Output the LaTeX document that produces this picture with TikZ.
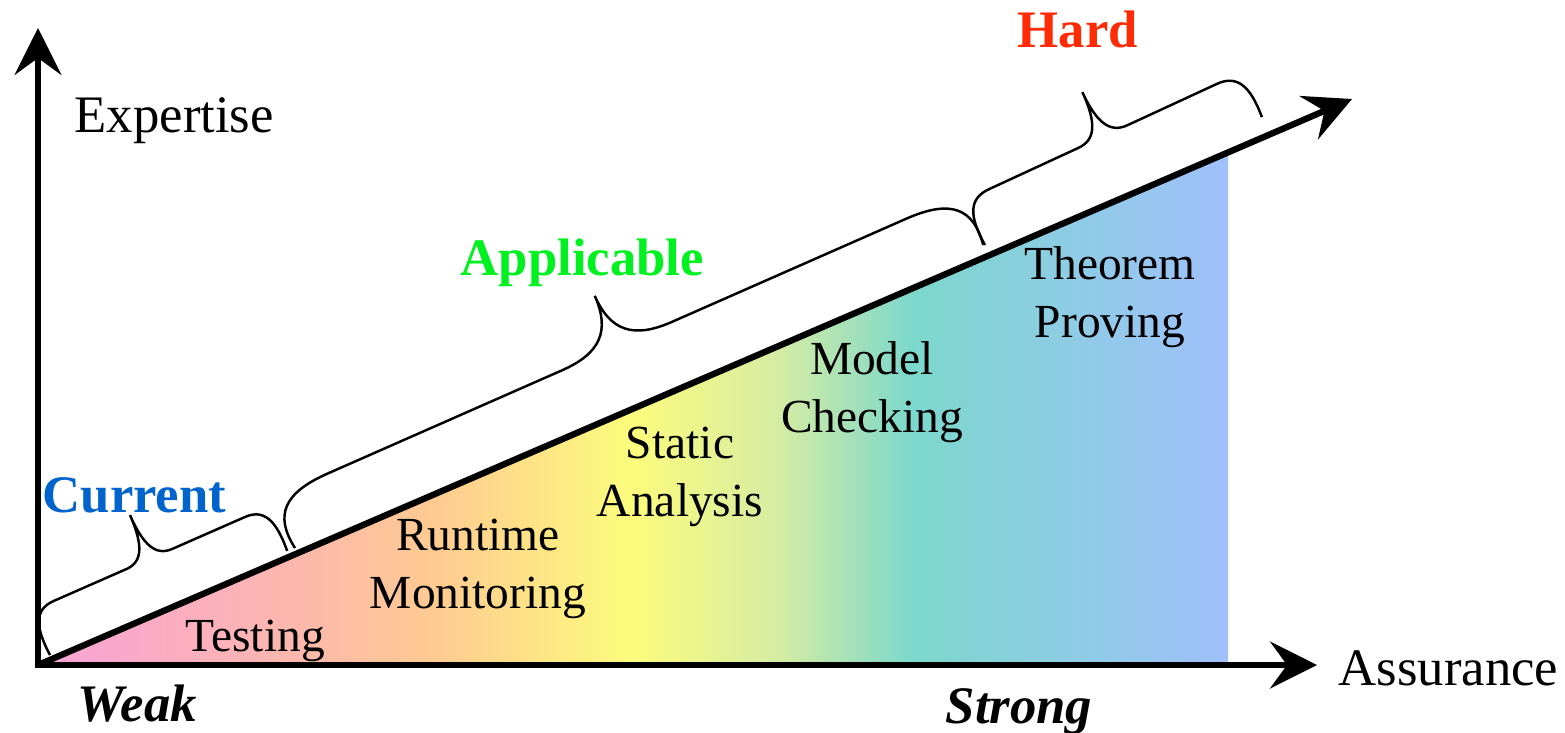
\documentclass[tikz,border=0pt]{standalone}
\usepackage{fontspec}
\setmainfont{Liberation Serif}
\usepackage{tikz}
\usepackage{xcolor}
\usetikzlibrary{arrows.meta}

\definecolor{sp0}{HTML}{F8A2D8}
\definecolor{sp1}{HTML}{FCB8AC}
\definecolor{sp2}{HTML}{FECC90}
\definecolor{sp3}{HTML}{FCFC7C}
\definecolor{sp4}{HTML}{D4ECA4}
\definecolor{sp5}{HTML}{7CD8CC}
\definecolor{sp6}{HTML}{A0C0FC}
\definecolor{currentblue}{HTML}{0064CC}
\definecolor{applicablegreen}{HTML}{00F020}
\definecolor{hardred}{HTML}{FF2B05}

\pgfdeclarehorizontalshading{spectrum}{100bp}{color(0bp)=(sp0); color(25bp)=(sp0);
	color(36bp)=(sp1); color(41.9bp)=(sp2); color(49.9bp)=(sp3); color(56.2bp)=(sp4);
	color(61.7bp)=(sp5); color(75bp)=(sp6); color(100bp)=(sp6)}

\tikzset{
	axislabel/.style={font=\fontsize{15}{18}\selectfont, inner sep=0, anchor=base west},
	verdict/.style={font=\bfseries\fontsize{15}{18}\selectfont, inner sep=0, anchor=base west},
	method/.style={font=\fontsize{13.5}{16.5}\selectfont, align=center, inner sep=0},
	axis/.style={line width=1.5pt},
	pics/curly/.style n args={3}{code={
		\draw[line width=0.7pt] (0,0) .. controls (-0.1*#3,0.7*#2) and (0.2*#3,#2) .. (#3,#2)
			-- (0.5*#1-#3,#2) .. controls (0.5*#1-0.3*#3,#2) and (0.5*#1,1.3*#2) .. (0.5*#1,2*#2)
			.. controls (0.5*#1,1.3*#2) and (0.5*#1+0.3*#3,#2) .. (0.5*#1+#3,#2)
			-- (#1-#3,#2) .. controls (#1-0.2*#3,#2) and (#1+0.1*#3,0.7*#2) .. (#1,0);
	}}
}

\begin{document}
\begin{tikzpicture}[>={Stealth[length=4.7mm, width=4.7mm, inset=1.7mm]}]
	\useasboundingbox (-0.38,-0.67) rectangle (15.27,6.65);
	%% axis points
	\coordinate (O) at (0,0);
	\coordinate (ytip) at (0,6.37);
	\coordinate (xtip) at (12.79,0);
	\coordinate (dtip) at (13.14,5.66);
	\coordinate (fbase) at (11.90,0);
	\coordinate (ftop) at (11.90,5.126);
	%% coloured wedge
	\shade[shading=spectrum] (O) -- (fbase) -- (ftop) -- cycle;
	%% axes
	\draw[axis, <->, line join=miter] (ytip) -- (O) -- (xtip);
	\draw[axis, ->, line width=1.8pt] (O) -- (dtip);
	%% braces
	\pic[rotate=23.7] at (0.12,0.10) {curly={2.59}{0.48}{0.25}};
	\pic[rotate=23.77] at (2.57,1.17) {curly={7.52}{0.55}{0.6}};
	\pic[rotate=24.8] at (9.47,4.20) {curly={3.05}{0.49}{0.27}};
	%% axis labels
	\node[axislabel] (expertise) at (0.36,5.33) {Expertise};
	\node[axislabel] (assurance) at (13.00,-0.20) {Assurance};
	\node[axislabel, font=\bfseries\itshape\fontsize{15}{18}\selectfont] (weak) at (0.39,-0.56) {Weak};
	\node[axislabel, font=\bfseries\itshape\fontsize{15}{18}\selectfont] (strong) at (9.07,-0.58) {Strong};
	%% brace labels
	\node[verdict, text=currentblue] (current) at (0.04,1.53) {Current};
	\node[verdict, text=applicablegreen] (applicable) at (4.22,3.90) {Applicable};
	\node[verdict, text=hardred] (hard) at (9.79,6.18) {Hard};
	%% techniques
	\node[method, anchor=base west] (testing) at (1.47,0.14) {Testing};
	\node[method] (runtime) at (4.40,0.96) {Runtime\\Monitoring};
	\node[method] (static) at (6.42,1.88) {Static\\Analysis};
	\node[method] (model) at (8.34,2.73) {Model\\Checking};
	\node[method] (theorem) at (10.72,3.68) {Theorem\\Proving};
\end{tikzpicture}
\end{document}
